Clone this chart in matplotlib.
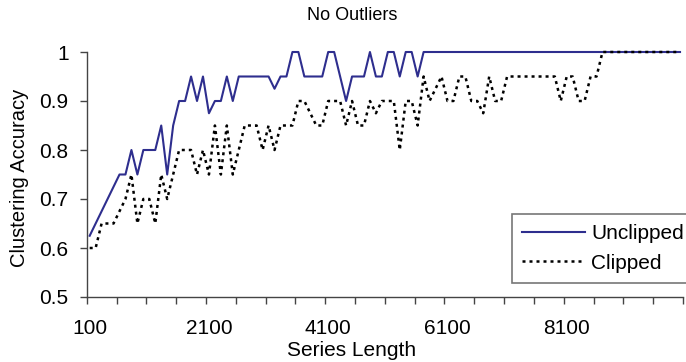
import numpy as np
import matplotlib
matplotlib.use('Agg')
import matplotlib.pyplot as plt

plt.rcParams['font.family'] = ['Liberation Sans', 'DejaVu Sans']

# series lengths 100..10000, one category every 100
lengths = list(range(100, 10001, 100))
tick_labels = ['100', '2100', '4100', '6100', '8100']

unclipped = [0.625, 0.65, 0.675, 0.7, 0.725, 0.75, 0.75, 0.8, 0.75, 0.8,
             0.8, 0.8, 0.85, 0.75, 0.85, 0.9, 0.9, 0.95, 0.9, 0.95,
             0.875, 0.9, 0.9, 0.95, 0.9, 0.95, 0.95, 0.95, 0.95, 0.95,
             0.95, 0.925, 0.95, 0.95, 1, 1, 0.95, 0.95, 0.95, 0.95,
             1, 1, 0.95, 0.9, 0.95, 0.95, 0.95, 1, 0.95, 0.95,
             1, 1, 0.95, 1, 1, 0.95, 1, 1, 1, 1] + [1.0] * 40

clipped = [0.6, 0.6, 0.65, 0.65, 0.65, 0.675, 0.7, 0.75, 0.65, 0.7,
           0.7, 0.65, 0.75, 0.7, 0.75, 0.8, 0.8, 0.8, 0.75, 0.8,
           0.75, 0.85, 0.75, 0.85, 0.75, 0.8, 0.85, 0.85, 0.85, 0.8,
           0.85, 0.8, 0.85, 0.85, 0.85, 0.9, 0.9, 0.875, 0.85, 0.85,
           0.9, 0.9, 0.9, 0.85, 0.9, 0.85, 0.85, 0.9, 0.875, 0.9,
           0.9, 0.9, 0.8, 0.9, 0.9, 0.85, 0.95, 0.9, 0.925, 0.95,
           0.9, 0.9, 0.95, 0.95, 0.9, 0.9, 0.875, 0.95, 0.9, 0.9,
           0.95, 0.95, 0.95, 0.95, 0.95, 0.95, 0.95, 0.95, 0.95, 0.9,
           0.95, 0.95, 0.9, 0.9, 0.95, 0.95, 1, 1, 1, 1] + [1.0] * 10

W, H = 686, 362
fig = plt.figure(figsize=(W / 100, H / 100), dpi=100)
ax = fig.add_axes([86.7 / W, 1 - 297 / H, (683 - 86.7) / W, (297 - 52) / H])

pos = np.arange(len(lengths))
ax.plot(pos, unclipped, color='#2e2e8e', lw=1.5, clip_on=False, label='Unclipped')
ax.plot(pos, clipped, color='black', lw=1.8, ls=(0, (1.2, 1.6)), clip_on=False,
        label='Clipped')

ax.set_xlim(-0.5, len(lengths) - 0.5)
ax.set_ylim(0.5, 1.0)
ax.set_yticks([0.5, 0.6, 0.7, 0.8, 0.9, 1.0])
ax.set_yticklabels(['0.5', '0.6', '0.7', '0.8', '0.9', '1'])
ax.set_xticks([lengths.index(int(t)) for t in tick_labels])
ax.set_xticklabels(tick_labels)
ax.set_xticks(np.arange(-0.5, len(lengths), 5), minor=True)
ax.tick_params(axis='x', which='major', length=0, pad=16, labelsize=15)
ax.tick_params(axis='x', which='minor', length=5, width=1, color='#444444', direction='out')
ax.tick_params(axis='y', length=5, width=1, color='#444444', pad=8, labelsize=15)

for s in ['top', 'right']:
    ax.spines[s].set_visible(False)
for s in ['left', 'bottom']:
    ax.spines[s].set_color('#444444')
    ax.spines[s].set_linewidth(1)

fig.text(352 / W, 1 - 16 / H, 'No Outliers', ha='center', va='center', fontsize=13)
fig.text(20 / W, 1 - 178 / H, 'Clustering Accuracy', ha='center', va='center',
         rotation=90, fontsize=14.5)
fig.text(352 / W, 1 - 350 / H, 'Series Length', ha='center', va='center', fontsize=15)

leg = ax.legend(loc='lower left', bbox_to_anchor=(512 / W, 1 - 283 / H),
                bbox_transform=fig.transFigure, fontsize=15, frameon=True,
                fancybox=False, handlelength=3.0, handletextpad=0.3,
                borderaxespad=0, borderpad=0.5, labelspacing=0.5)
leg.get_frame().set_edgecolor('#555555')
leg.get_frame().set_linewidth(1.2)

fig.savefig('out.png', dpi=100)
